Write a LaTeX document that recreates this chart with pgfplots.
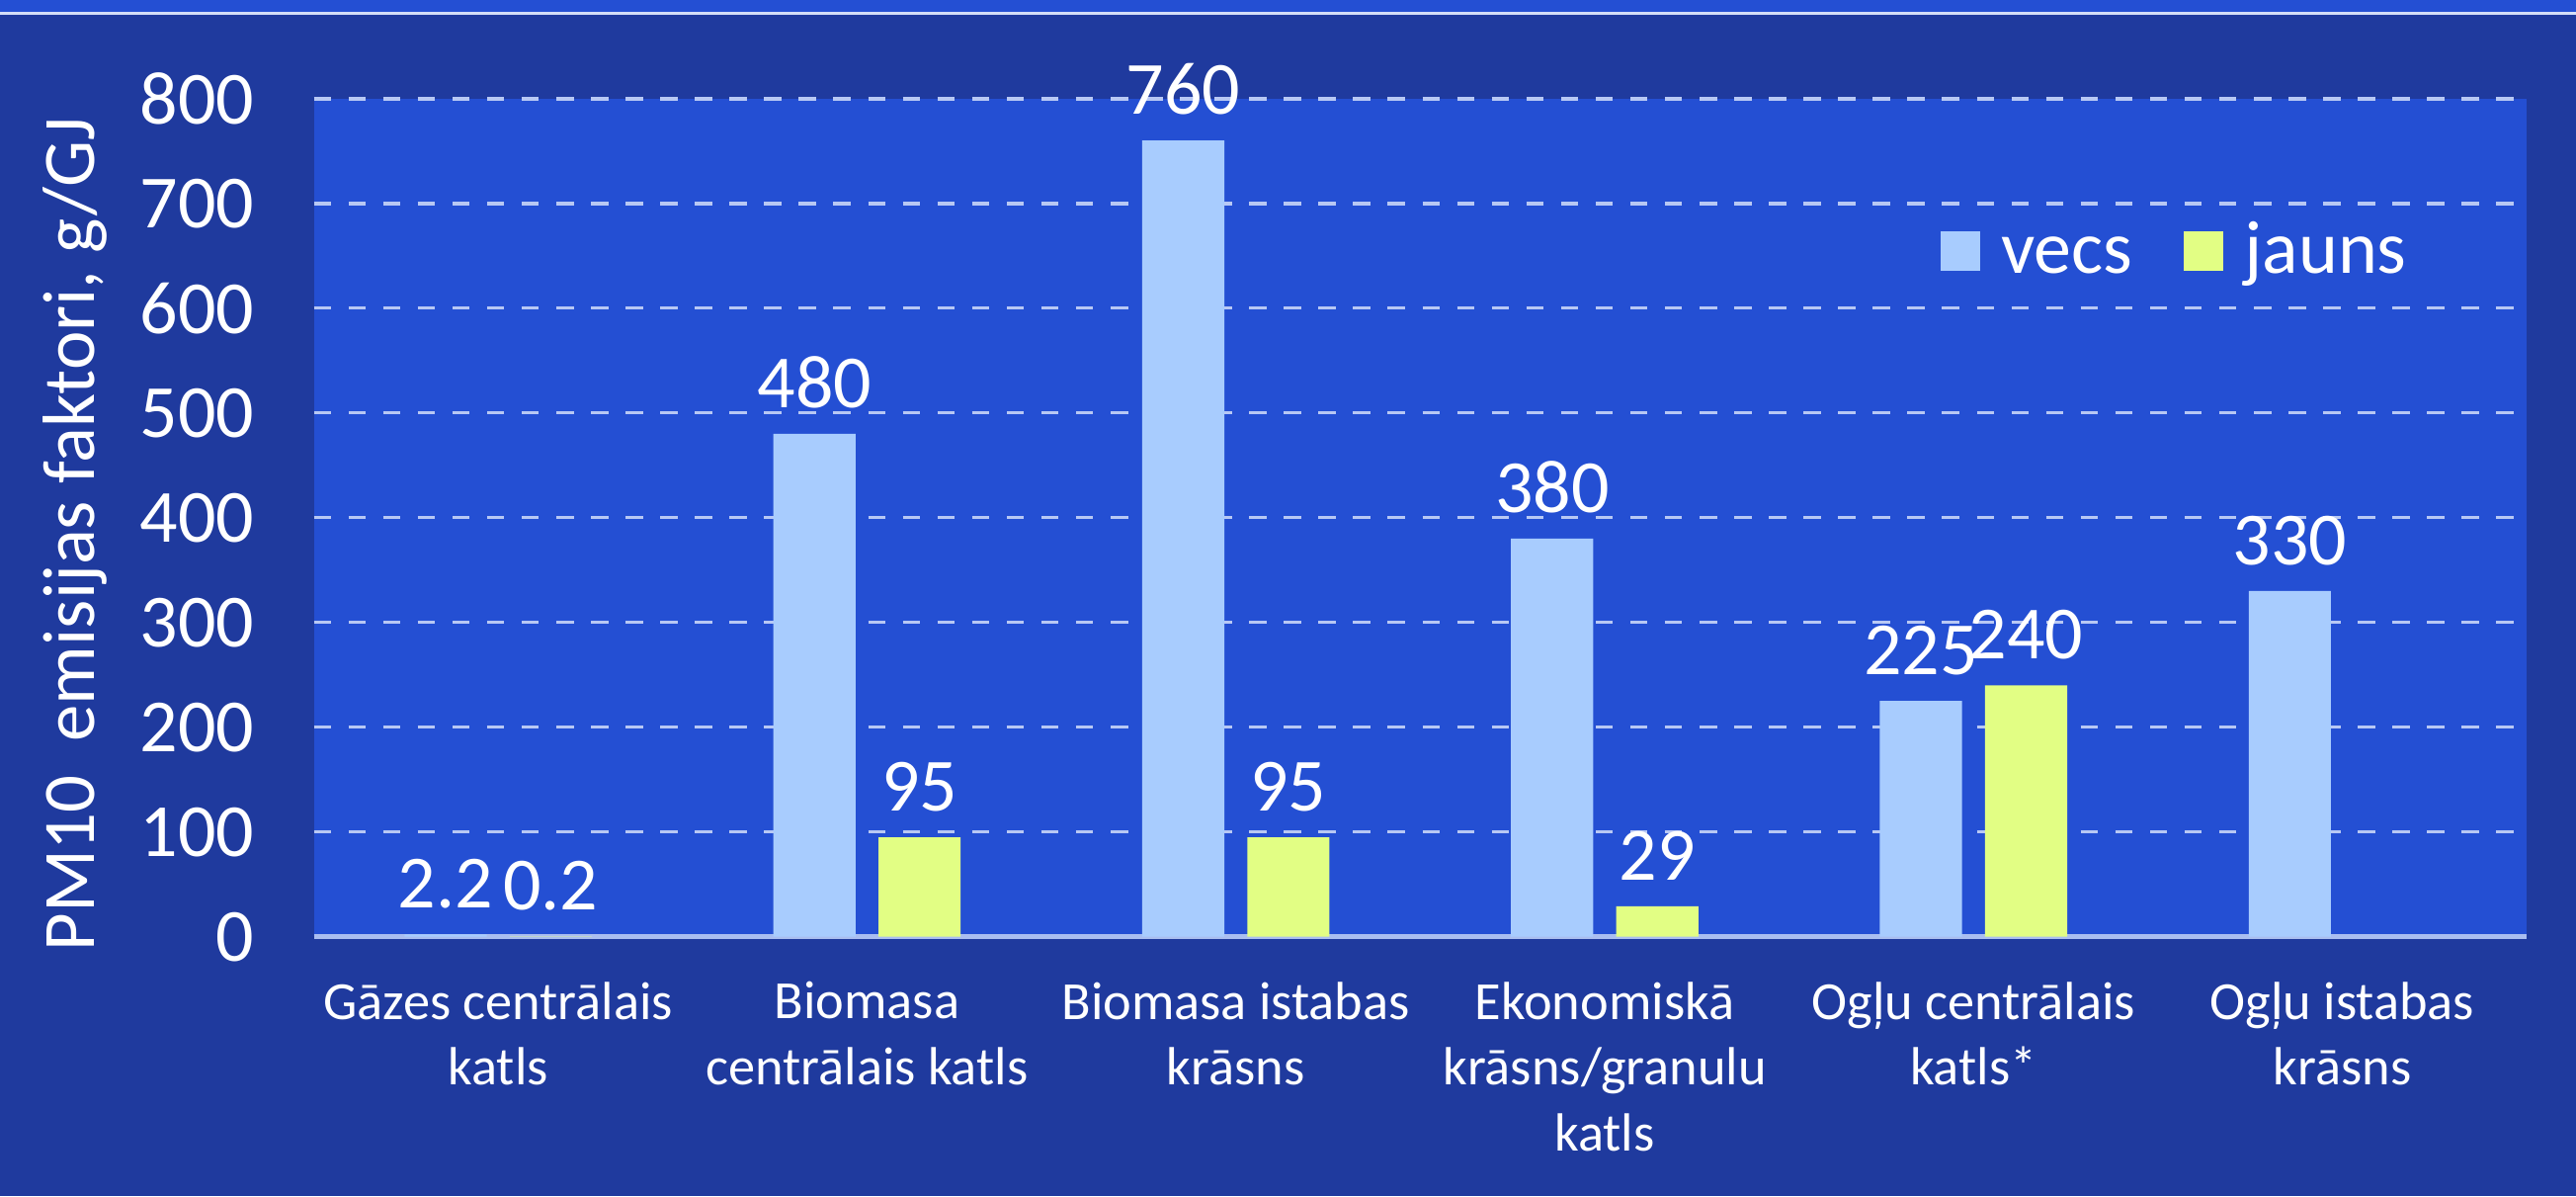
\documentclass[border=0pt]{standalone}
\usepackage{fontspec}
\setmainfont{Carlito}
\usepackage{pgfplots}
\pgfplotsset{compat=1.18}
\definecolor{bgdark}{RGB}{31,58,158}
\definecolor{plotblue}{RGB}{36,79,211}
\definecolor{vecs}{RGB}{168,204,254}
\definecolor{jauns}{RGB}{226,254,132}
\definecolor{gridc}{RGB}{184,200,244}
\definecolor{axisc}{RGB}{170,190,240}
\begin{document}
\begin{tikzpicture}
\fill[bgdark] (0,0) rectangle (15.68cm,7.28cm);
\useasboundingbox (0,0) rectangle (15.68cm,7.28cm);
\fill[plotblue] (0,7.20cm) rectangle (15.68cm,7.28cm);
\draw[gridc!60!white, line width=0.5pt] (0,7.20cm) -- (15.68cm,7.20cm);
\begin{axis}[
  at={(1.91cm,1.58cm)}, anchor=south west,
  scale only axis, width=13.47cm, height=5.10cm,
  xmin=-0.5, xmax=5.5, ymin=0, ymax=800,
  ybar=1.4mm, bar width=5mm,
  clip=false,
  axis background/.style={fill=plotblue},
  axis line style={draw=none},
  major tick length=0pt,
  /pgf/number format/assume math mode=true,
  ytick={0,100,...,800},
  ymajorgrids,
  major grid style={dashed, gridc, line width=0.6pt},
  extra y ticks={0}, extra y tick labels={},
  extra y tick style={grid=major, major grid style={solid, axisc, line width=0.8pt}},
  yticklabel style={font=\fontsize{13}{15.6}\selectfont, text=white, xshift=-2.4mm},
  xtick={0,1,2,3,4,5},
  xticklabels={{Gāzes centrālais\\katls},{Biomasa\\centrālais katls},{Biomasa istabas\\krāsns},{Ekonomiskā\\krāsns/granulu\\katls},{Ogļu centrālais\\katls*},{Ogļu istabas\\krāsns}},
  xticklabel style={font=\fontsize{9.3}{11.4}\selectfont, text=white, align=center, yshift=-1.5mm},
  ylabel={PM10\ \ emisijas faktori, g/GJ},
  every axis y label/.style={at={(axis description cs:-0.108,0.48)}, rotate=90, anchor=center, font=\fontsize{12.8}{15}\selectfont, text=white},
  nodes near coords,
  every node near coord/.append style={font=\fontsize{13}{15.6}\selectfont, text=white, anchor=south, inner sep=0pt, yshift=1.5mm},
  legend style={at={(axis description cs:0.843,0.810)}, anchor=center, draw=none, fill=none,
    legend columns=2, font=\fontsize{13}{15.6}\selectfont, text=white,
    nodes={text height=1.6ex, text depth=0.5ex},
    /tikz/every odd column/.append style={column sep=0.6mm},
    /tikz/every even column/.append style={column sep=2.4mm}},
  myleg/.style={legend image code/.code={\fill[##1] (-0.3mm,-0.8mm) rectangle (2.1mm,1.6mm);}},
]
\addplot[fill=vecs, draw=none, myleg] coordinates {(0,2.2) (1,480) (2,760) (3,380) (4,225) (5,330)};
\addplot[fill=jauns, draw=none, myleg] coordinates {(0,0.2) (1,95) (2,95) (3,29) (4,240)};
\legend{vecs, jauns}
\end{axis}
\end{tikzpicture}
\end{document}
